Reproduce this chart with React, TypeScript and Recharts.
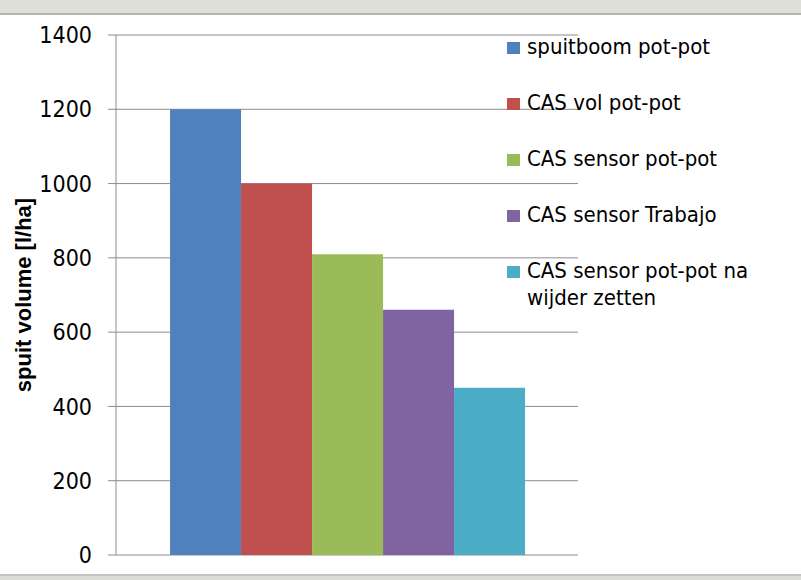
import { Bar, BarChart, CartesianGrid, XAxis, YAxis } from "recharts";

const categories = ["spuit volume"];
const seriesNames = [
  "spuitboom pot-pot",
  "CAS vol pot-pot",
  "CAS sensor pot-pot",
  "CAS sensor Trabajo",
  "CAS sensor pot-pot na wijder zetten",
];
const seriesValues = [1200, 1000, 810, 660, 450];
const seriesColors = ["#4f81bd", "#c0504d", "#9bbb59", "#8064a2", "#4bacc6"];
const yTicks = [0, 200, 400, 600, 800, 1000, 1200, 1400];

const FONT = "'Liberation Sans Narrow', 'DejaVu Sans Condensed', 'Liberation Sans', Arial, sans-serif";

const data = categories.map((name) => {
  const row: Record<string, string | number> = { name };
  seriesNames.forEach((s, i) => {
    row[`s${i}`] = seriesValues[i];
  });
  return row;
});

export default function App() {
  return (
    <div style={{ position: "relative", width: 801, height: 580, background: "#fff", fontFamily: FONT }}>
      <style>{`body{margin:0}`}</style>
      {/* window frame bands */}
      <div style={{ position: "absolute", left: 0, top: 0, width: 801, height: 13, background: "#dfdfda", borderBottom: "2px solid #b4b4b0" }} />
      <div style={{ position: "absolute", left: 0, top: 574, width: 801, height: 6, background: "#dcdcd6", borderTop: "2px solid #c4c4c0" }} />

      <BarChart
        width={801}
        height={580}
        data={data}
        margin={{ top: 35, right: 223, bottom: 25, left: 16 }}
        barCategoryGap="11.7%"
        barGap={0}
      >
        <CartesianGrid horizontal vertical={false} stroke="#8c8c8c" />
        <XAxis dataKey="name" tick={false} tickLine={false} height={0} axisLine={{ stroke: "#bfbfbf", strokeWidth: 2 }} />
        <YAxis
          width={100}
          domain={[0, 1400]}
          ticks={yTicks}
          interval={0}
          tickSize={8}
          tickMargin={16}
          axisLine={{ stroke: "#8c8c8c" }}
          tickLine={{ stroke: "#8c8c8c" }}
          tick={{ fill: "#000", fontSize: 23, fontFamily: FONT }}
          label={{
            value: "spuit volume [l/ha]",
            angle: -90,
            position: "insideLeft",
            offset: 7,
            style: { textAnchor: "middle", fontWeight: "bold", fontSize: 22, fill: "#000", fontFamily: "'Liberation Sans', Arial, sans-serif" },
          }}
        />
        {seriesNames.map((s, i) => (
          <Bar key={s} dataKey={`s${i}`} name={s} fill={seriesColors[i]} isAnimationActive={false} />
        ))}
      </BarChart>

      {/* legend */}
      <div style={{ position: "absolute", left: 507, top: 33, width: 290 }}>
        {seriesNames.map((s, i) => (
          <div key={s} style={{ display: "flex", alignItems: "flex-start", height: 56 }}>
            <span style={{ display: "inline-block", width: 13, height: 12, marginTop: 9, marginRight: 7, background: seriesColors[i] }} />
            <span style={{ fontSize: 22, lineHeight: "27px", color: "#000", width: 250 }}>{s}</span>
          </div>
        ))}
      </div>
    </div>
  );
}
